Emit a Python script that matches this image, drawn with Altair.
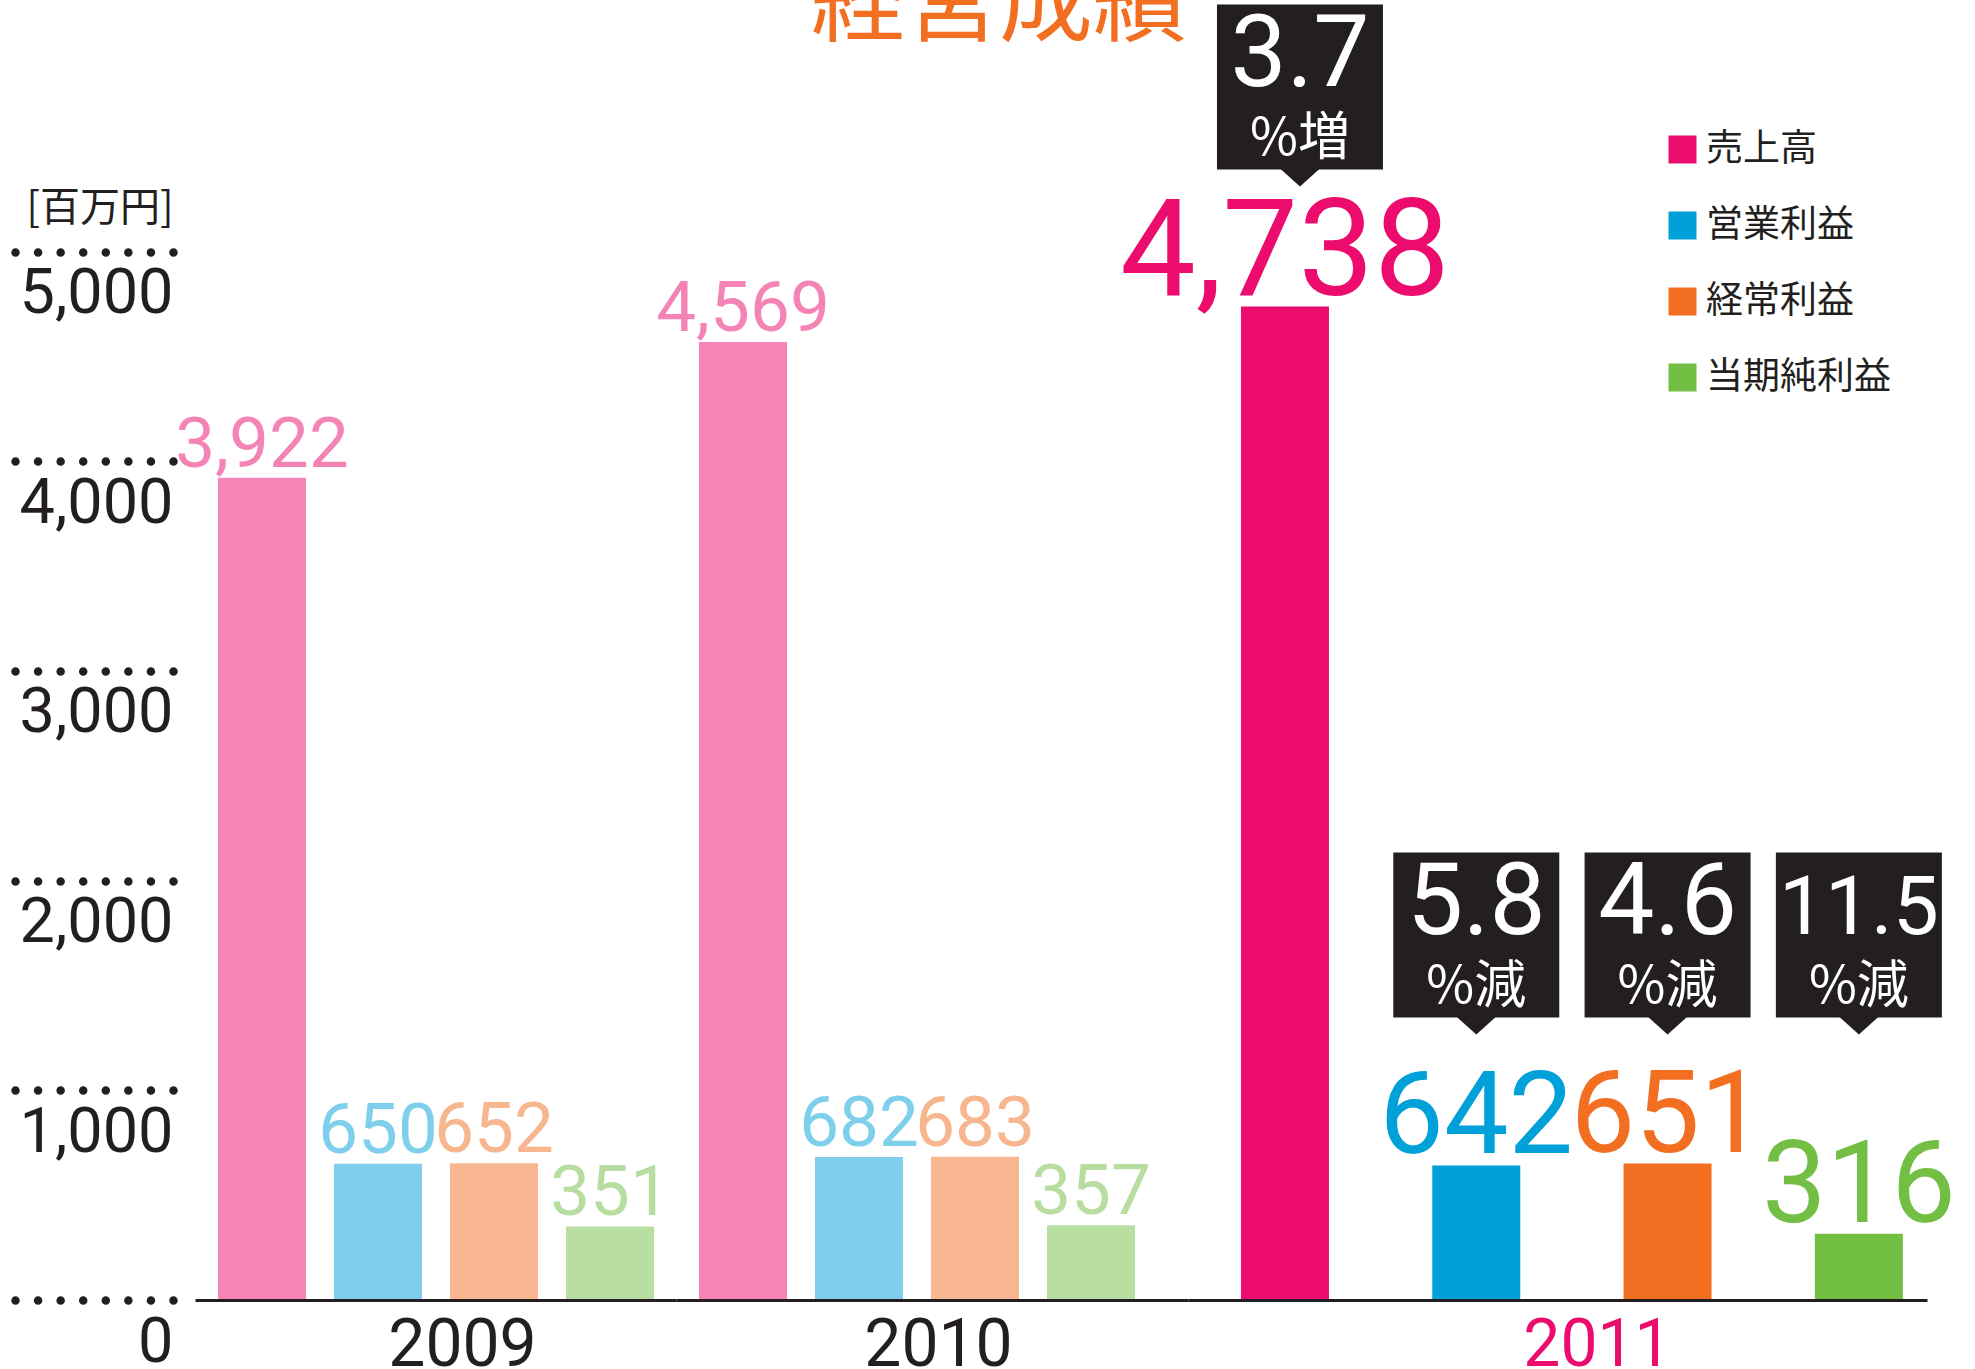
import altair as alt
import pandas as pd

# ---------------- data ----------------
TITLE = "経営成績"
UNIT = "[百万円]"
YEARS = ["2009", "2010", "2011"]
SERIES = ["売上高", "営業利益", "経常利益", "当期純利益"]
V2009 = [3922, 650, 652, 351]
V2010 = [4569, 682, 683, 357]
V2011 = [4738, 642, 651, 316]
CHANGE_NUM = ["3.7", "5.8", "4.6", "11.5"]
CHANGE_WORD = ["%増", "%減", "%減", "%減"]
Y_TICKS = [0, 1000, 2000, 3000, 4000, 5000]

# ---------------- style ----------------
COLORS = ["#eb0c6e", "#00a0d9", "#f26f22", "#72bf44"]
INK = "#231f20"
TITLE_COLOR = "#f26f22"
YEAR_COLORS = {"2009": INK, "2010": INK, "2011": "#eb0c6e"}
NUM_FONT = "Roboto"
JP_FONT = "Noto Sans CJK JP"
YMAX = 6200
PANEL_H = 1300

rows = []
for yr, vals in zip(YEARS, [V2009, V2010, V2011]):
    for s, v in zip(SERIES, vals):
        rows.append({"year": yr, "series": s, "value": v,
                     "label": f"{v:,}"})
df = pd.DataFrame(rows)

profit_max = max(V2011[1:])
call = pd.DataFrame({
    "series": SERIES,
    "value": V2011,
    "num": CHANGE_NUM,
    "word": CHANGE_WORD,
    "anchor": [V2011[0]] + [profit_max] * 3,
    "kind": ["sales", "profit", "profit", "profit"],
})

color = alt.Color("series:N", sort=SERIES,
                  scale=alt.Scale(domain=SERIES, range=COLORS),
                  legend=alt.Legend(title=None, orient="none", legendX=1469, legendY=131,
                                    symbolType="square", symbolSize=784, symbolOpacity=1,
                                    symbolStrokeWidth=0, labelFont=JP_FONT, labelFontSize=37,
                                    labelColor=INK, rowPadding=38, labelOffset=5, padding=0,
                                    labelLimit=1000, direction="vertical"))
opacity = alt.condition(alt.datum.year == "2011", alt.value(1), alt.value(0.5))

Y_AXIS = alt.Axis(values=Y_TICKS, format=",d", domain=False, grid=False, offset=22,
                  tickSize=158, tickDash=[0, 22.57], tickCap="round", tickWidth=8.5,
                  tickColor=INK, labelPadding=-158, labelOffset=61,
                  labelBaseline="alphabetic", labelAlign="right", labelFont=NUM_FONT,
                  labelFontSize=63, labelColor=INK, labelBound=False, labelFlush=False,
                  labelOverlap=False, title=UNIT, titleAngle=0, titleAlign="right",
                  titleBaseline="alphabetic", titleX=0, titleY=220, titleFont=JP_FONT,
                  titleFontSize=40, titleFontWeight="normal", titleColor=INK)


def x_axis(year, tx):
    return alt.Axis(labels=False, ticks=False, domain=True, domainColor=INK, domainWidth=3,
                    zindex=1, title=year, titleX=tx, titleY=65, titleBaseline="alphabetic",
                    titleAlign="center", titleFont=NUM_FONT, titleFontSize=66,
                    titleFontWeight="normal", titleColor=YEAR_COLORS[year])


def make_enc(year, pi, po, al, tx):
    xa = x_axis(year, tx)
    ya = Y_AXIS if year == "2009" else None

    def xenc():
        return alt.X("series:N", sort=SERIES,
                     scale=alt.Scale(domain=SERIES, paddingInner=pi, paddingOuter=po,
                                     align=al),
                     axis=xa)

    def yenc(field="value"):
        return alt.Y(f"{field}:Q", scale=alt.Scale(domain=[0, YMAX], nice=False, zero=True),
                     axis=ya)
    return xenc, yenc


TRI = "M -1 -0.45 L 1 -0.45 L 0 0.45 Z"


def title_layer(xenc, yenc):
    t = alt.Chart(pd.DataFrame({"t": [TITLE]})).mark_text(
        font=JP_FONT, fontSize=94, color=TITLE_COLOR, align="center",
        baseline="alphabetic", clip=True).encode(
        x=alt.value(323), y=alt.value(34), text="t:N")
    return [t]


def callouts(xenc, yenc):
    out = []
    for kind, gap, shift in [("sales", 137, 15), ("profit", 146, 0)]:
        c = alt.Chart(call[call["kind"] == kind])
        box = c.mark_bar(width=166, color=INK, xOffset=shift, yOffset=-(gap + 165),
                         y2Offset=-gap).encode(
            x=xenc(), y=yenc("anchor"), y2="anchor:Q")
        tri = c.mark_point(shape=TRI, size=1600, filled=True, color=INK, opacity=1,
                           strokeWidth=0, xOffset=shift, yOffset=-gap + 8).encode(
            x=xenc(), y=yenc("anchor"))
        num = c.mark_text(font=NUM_FONT, color="white", baseline="alphabetic",
                          align="center", dx=shift, dy=-(gap + 84)).encode(
            x=xenc(), y=yenc("anchor"), text="num:N",
            size=alt.condition("length(datum.num) > 3", alt.value(82), alt.value(100)))
        word = c.mark_text(font=JP_FONT, fontSize=52, color="white",
                           baseline="alphabetic", align="center",
                           dx=shift, dy=-(gap + 15)).encode(
            x=xenc(), y=yenc("anchor"), text="word:N")
        out += [box, tri, num, word]
    return out


def panel(year, width, pi, po, al, tx, label_size, label_dy, extra=None):
    xenc, yenc = make_enc(year, pi, po, al, tx)
    d = df[df["year"] == year]
    base = alt.Chart(d)
    bars = base.mark_bar().encode(x=xenc(), y=yenc(), color=color, opacity=opacity)
    labels = base.mark_text(font=NUM_FONT, baseline="alphabetic", align="center",
                            dy=label_dy).encode(
        x=xenc(), y=yenc(), text="label:N", color=color, opacity=opacity,
        size=label_size)
    layers = [bars, labels]
    if extra:
        layers += extra(xenc, yenc)
    return alt.layer(*layers).properties(width=width, height=PANEL_H)


size_small = alt.value(71)
size_2011 = alt.condition(alt.datum.series == SERIES[0], alt.value(135), alt.value(115))

p2009 = panel("2009", 481, 0.2414, 0.194, 0.511, 267, size_small, -11)
p2010 = panel("2010", 512, 0.2414, 0.3276, 0.3026, 262, size_small, -11, title_layer)
p2011 = panel("2011", 739, 0.54, 0.2015, 0.687, 409, size_2011, -12, callouts)

chart = alt.hconcat(p2009, p2010, p2011, spacing=0, bounds="flush").resolve_scale(
    x="independent", y="independent", color="shared"
).properties(
    padding={"left": 10, "top": 0, "right": 0, "bottom": 0},
    background="white",
).configure_view(stroke=None)

chart.save("out.html", embed_options={"renderer": "svg", "actions": False})
